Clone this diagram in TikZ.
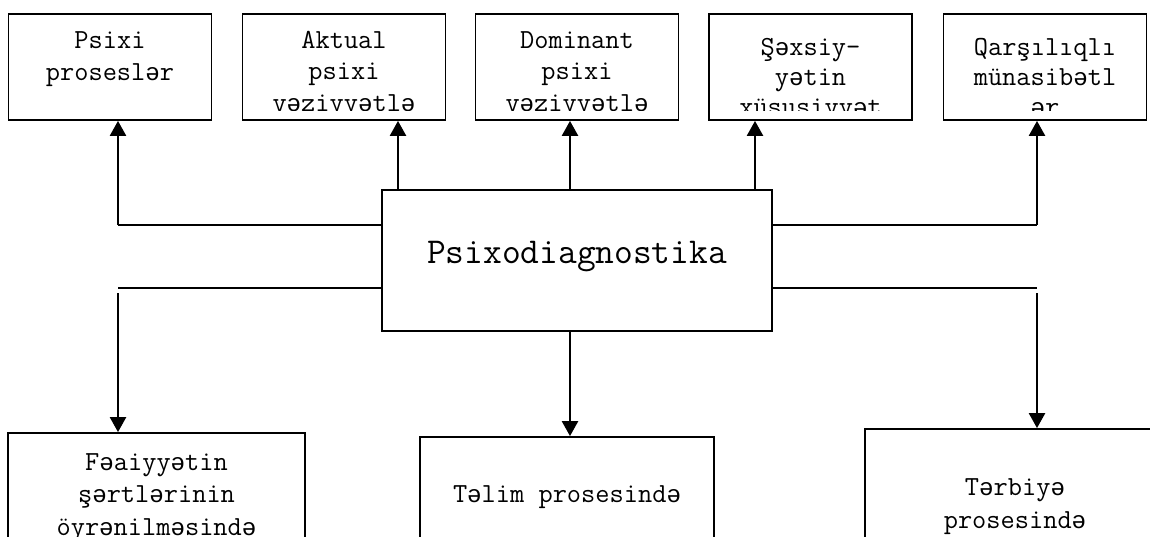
\documentclass[tikz,border=0pt]{standalone}
\usepackage{fontspec}
\newfontfamily\schwafont[Scale=0.875]{Liberation Mono}
\begingroup
\catcode`\ə=\active
\gdef ə{{\schwafont\char"0259\relax}}
\endgroup
\catcode`\ə=\active
\usetikzlibrary{arrows.meta}
\begin{document}
\begin{tikzpicture}[x=0.5pt,y=-0.5pt,
  tbox/.style={draw, line width=0.9pt, minimum width=101.5pt, minimum height=53pt, inner sep=0pt},
  cbox/.style={draw, line width=0.9pt, minimum width=195pt, minimum height=70.5pt, inner sep=0pt},
  bbox/.style={draw, line width=0.9pt, inner sep=0pt, minimum height=90pt},
  ln/.style={anchor=base, inner sep=0pt, font=\ttfamily\fontsize{13.8pt}{16pt}\selectfont},
  big/.style={anchor=base, inner sep=0pt, font=\ttfamily\fontsize{18.2pt}{21pt}\selectfont},
  arr/.style={line width=1.2pt, -{Triangle[length=7.5pt,width=8pt]}},
  link/.style={line width=0.8pt},
]
\useasboundingbox (0,0) rectangle (1150,536);
\clip (0,0) rectangle (1150,536);

% boxes
\node[tbox] (b1) at (110,67) {};
\node[tbox] (b2) at (344,67) {};
\node[tbox] (b3) at (577,67) {};
\node[tbox] (b4) at (810.5,67) {};
\node[tbox] (b5) at (1045,67) {};
\node[cbox] (c) at (577,260.5) {};
\node[big] (ct) at (577,263) {Psixodiagnostika};
\node[bbox, minimum width=148.5pt] (b6) at (156.5,523) {};
\node[bbox, minimum width=147pt] (b7) at (567,527) {};
\node[bbox, minimum width=150pt] (b8) at (1015,519) {};

% texts, clipped as in the text boxes
\begin{scope}
  \clip (8,14) rectangle (212,110);
  \node[ln] (t1a) at (110,48) {Psixi};
  \node[ln] (t1b) at (110,80) {proseslər};
\end{scope}
\begin{scope}
  \clip (242,14) rectangle (446,110);
  \node[ln] (t2a) at (344,48) {Aktual};
  \node[ln] (t2b) at (344,79.5) {psixi};
  \node[ln] (t2c) at (344,111) {vəziyyətlə};
\end{scope}
\begin{scope}
  \clip (476,14) rectangle (678,110);
  \node[ln] (t3a) at (577,48) {Dominant};
  \node[ln] (t3b) at (577,79.5) {psixi};
  \node[ln] (t3c) at (577,111) {vəziyyətlə};
\end{scope}
\begin{scope}
  \clip (709,14) rectangle (912,110);
  \node[ln] (t4a) at (810.5,55) {Şəxsiy-};
  \node[ln] (t4b) at (810.5,85) {yətin};
  \node[ln] (t4c) at (810.5,115) {xüsusiyyət};
\end{scope}
\begin{scope}
  \clip (943,14) rectangle (1147,110);
  \node[ln] (t5a) at (1045,55) {Qarşılıqlı};
  \node[ln] (t5b) at (1045,85) {münasibətl};
  \node[ln] (t5c) at (1045,115) {ər};
\end{scope}
\node[ln] (t6a) at (156.5,470) {Fəaiyyətin};
\node[ln] (t6b) at (156.5,502) {şərtlərinin};
\node[ln] (t6c) at (156.5,535) {öyrənilməsində};
\node[ln] (t7a) at (567,502) {Təlim prosesində};
\node[ln] (t8a) at (1015,495) {Tərbiyə};
\node[ln] (t8b) at (1015,528) {prosesində};

% connectors
\coordinate (hu) at (0,225);
\coordinate (hl) at (0,288);
\coordinate (hl2) at (0,293);
\coordinate (x1) at (118,0);
\coordinate (x2) at (398,0);
\coordinate (x3) at (570,0);
\coordinate (x4) at (755,0);
\coordinate (x5) at (1037,0);

\draw[link] (c.west |- hu) -- (hu -| x1);
\draw[arr] (hu -| x1) -- (b1.south -| x1);
\draw[arr] (c.north -| x2) -- (b2.south -| x2);
\draw[arr] (c.north -| x3) -- (b3.south -| x3);
\draw[arr] (c.north -| x4) -- (b4.south -| x4);
\draw[link] (c.east |- hu) -- (hu -| x5);
\draw[arr] (hu -| x5) -- (b5.south -| x5);

\draw[link] (c.west |- hl) -- (hl -| x1);
\draw[arr] (hl2 -| x1) -- (b6.north -| x1);
\draw[link] (c.east |- hl) -- (hl -| x5);
\draw[arr] (hl2 -| x5) -- (b8.north -| x5);
\draw[arr] (c.south -| x3) -- (b7.north -| x3);
\end{tikzpicture}
\end{document}
